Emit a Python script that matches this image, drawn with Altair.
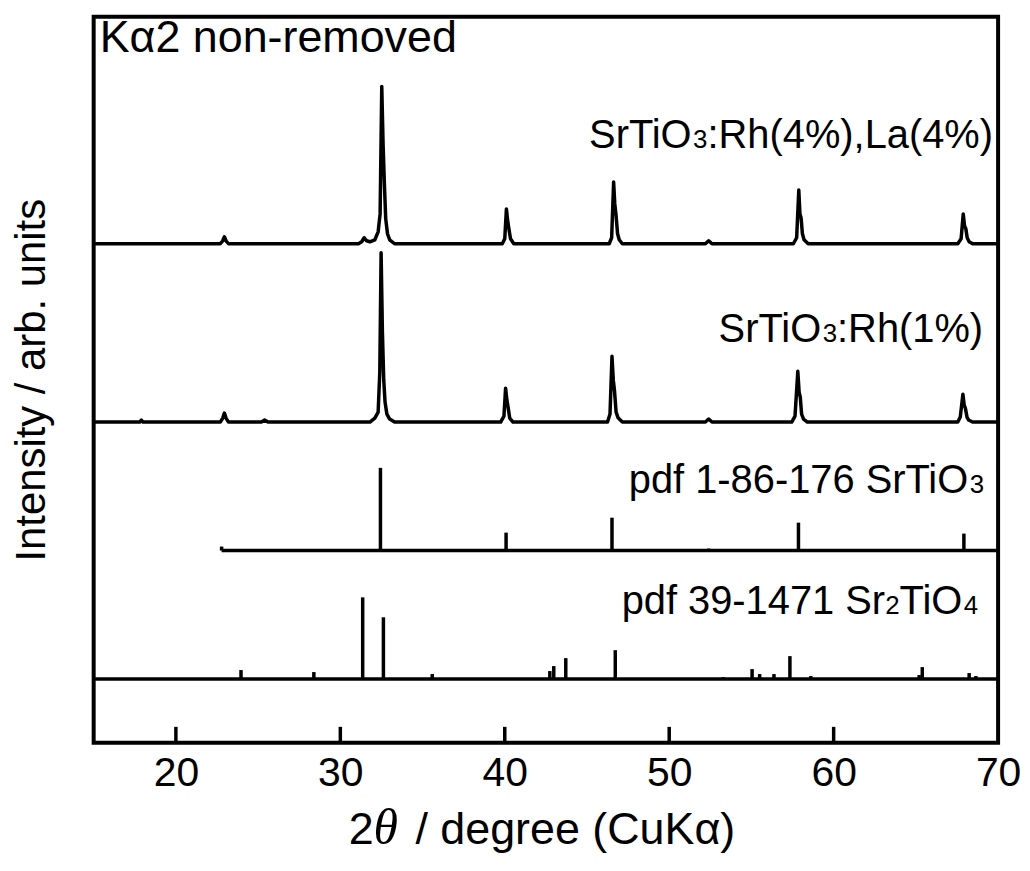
import altair as alt
import pandas as pd

# ---------------- data ----------------
# SrTiO3:Rh(4%),La(4%)  (2theta, intensity arb.)
tt_rhla = [15.0, 22.7, 22.85, 22.95, 23.05, 23.2, 31.1, 31.3, 31.45, 31.6, 31.8, 32.1, 32.3, 32.42,
           32.52, 32.6, 32.68, 32.76, 32.87, 33.0, 33.3, 39.85, 40.0, 40.1, 40.17, 40.25, 40.35, 40.55,
           46.35, 46.5, 46.62, 46.69, 46.76, 46.86, 46.96, 47.15, 52.2, 52.4, 52.6, 57.55, 57.75, 57.88,
           57.95, 58.02, 58.1, 58.2, 58.45, 67.55, 67.75, 67.88, 67.96, 68.04, 68.12, 68.24, 68.45, 70.0]
I_rhla = [0, 0, 3, 7, 3, 0, 0, 2, 6, 3, 2, 4, 12, 30,
          158, 100, 60, 25, 10, 4, 0, 0, 5, 35, 24, 15, 5, 0,
          0, 6, 62, 40, 30, 10, 4, 0, 0, 3, 0, 0, 6, 54,
          30, 26, 10, 4, 0, 0, 5, 30, 18, 15, 6, 2, 0, 0]

# SrTiO3:Rh(1%)
tt_rh = [15.0, 17.8, 17.9, 18.0, 22.7, 22.85, 22.95, 23.05, 23.2, 25.2, 25.4, 25.6, 31.8, 32.1,
         32.3, 32.4, 32.48, 32.56, 32.64, 32.72, 32.83, 33.0, 33.3, 39.75, 39.95, 40.05, 40.13, 40.21,
         40.3, 40.5, 46.25, 46.4, 46.52, 46.6, 46.67, 46.77, 46.9, 47.15, 52.2, 52.4, 52.6, 57.45,
         57.65, 57.82, 57.9, 57.97, 58.05, 58.17, 58.4, 67.55, 67.7, 67.86, 67.94, 68.01, 68.11,
         68.21, 68.45, 70.0]
I_rh = [0, 0, 2, 0, 0, 4, 9, 4, 0, 0, 2, 0, 0, 4,
        10, 50, 170, 90, 42, 20, 8, 3, 0, 0, 6, 34, 22, 14,
        4, 0, 0, 8, 66, 42, 32, 10, 4, 0, 0, 3, 0, 0,
        6, 51, 30, 25, 8, 3, 0, 0, 5, 28, 17, 14, 5,
        2, 0, 0]

# pdf 1-86-176 SrTiO3 (stick pattern)
pdf1_tt = [22.78, 32.44, 40.08, 46.52, 52.4, 57.86, 67.92]
pdf1_I = [4, 83, 18, 33, 2, 28, 17]
pdf1_range = [22.78, 70.0]

# pdf 39-1471 Sr2TiO4 (stick pattern)
pdf2_tt = [23.96, 28.39, 31.36, 32.62, 35.59, 42.74, 42.98, 43.71, 46.72, 53.28, 55.04, 55.5,
           56.37, 57.34, 58.61, 65.2, 65.39, 68.24, 68.65]
pdf2_I = [9, 7, 82, 62, 5, 8, 13, 21, 29, 2, 10, 5, 5, 23, 3, 4, 12, 6, 3]
pdf2_range = [15.0, 70.0]

x_ticks = [20, 30, 40, 50, 60, 70]

# ---------------- layout ----------------
W, H = 908, 729
PL, PT = 86, 7          # padding => plot origin at page (94, 15)
X0, Y0 = 94, 15
XMIN, XMAX = 15, 70
OFF = {"rhla": 501, "rh": 322, "pdf1": 193, "pdf2": 64}   # vertical stacking offsets

FONT = "Liberation Sans"


def px_to_tt(px):
    return XMIN + (px - X0) * (XMAX - XMIN) / W


def py_to_y(py):
    return (Y0 + H) - py


rows = []
for t, i in zip(tt_rhla, I_rhla):
    rows.append({"tt": t, "y": OFF["rhla"] + i, "s": "rhla"})
for t, i in zip(tt_rh, I_rh):
    rows.append({"tt": t, "y": OFF["rh"] + i, "s": "rh"})
df_tr = pd.DataFrame(rows)

df_base = pd.DataFrame([
    {"tt": pdf1_range[0], "tt2": pdf1_range[1], "y": OFF["pdf1"]},
    {"tt": pdf2_range[0], "tt2": pdf2_range[1], "y": OFF["pdf2"]},
])

srows = []
for t, i in zip(pdf1_tt, pdf1_I):
    srows.append({"tt": t, "y": OFF["pdf1"], "y2": OFF["pdf1"] + i})
for t, i in zip(pdf2_tt, pdf2_I):
    srows.append({"tt": t, "y": OFF["pdf2"], "y2": OFF["pdf2"] + i})
df_st = pd.DataFrame(srows)

df_ticks = pd.DataFrame({"tt": x_ticks[:-1]})

# Arial / Liberation Sans advance widths (1/1000 em) for label layout
AW = {' ': 278, '%': 889, '(': 333, ')': 333, ',': 278, '-': 333, '.': 278, ':': 278, '/': 278,
      'L': 556, 'O': 778, 'R': 722, 'S': 667, 'T': 611, 'a': 556, 'd': 556, 'f': 278, 'h': 556,
      'i': 222, 'p': 556, 'r': 333}
for d in "0123456789":
    AW[d] = 556


def tw(text, fs):
    return sum(AW.get(c, 556) for c in text) * fs / 1000.0


BIG, SUB = 40, 26
labels = [
    ([("SrTiO", BIG), ("3", SUB), (":Rh(4%),La(4%)", BIG)], 997, 147),
    ([("SrTiO", BIG), ("3", SUB), (":Rh(1%)", BIG)], 987, 342),
    ([("pdf 1-86-176 SrTiO", BIG), ("3", SUB)], 988, 493),
    ([("pdf 39-1471 Sr", BIG), ("2", SUB), ("TiO", BIG), ("4", SUB)], 982, 615),
]
trows = []
for segs, right, base in labels:
    x = right - sum(tw(t, f) for t, f in segs)
    for t, f in segs:
        trows.append({"text": t, "tt": px_to_tt(x), "y": py_to_y(base), "fs": f})
        x += tw(t, f)
trows.append({"text": "K\u03b12 non-removed", "tt": px_to_tt(100), "y": py_to_y(50), "fs": 45})
# x-axis title (sans parts)
trows.append({"text": "2", "tt": px_to_tt(350), "y": py_to_y(846), "fs": 45})
trows.append({"text": "/ degree (CuK\u03b1)", "tt": px_to_tt(417), "y": py_to_y(846), "fs": 45})
df_txt = pd.DataFrame(trows)
df_theta = pd.DataFrame([{"text": "\u03b8", "tt": px_to_tt(375), "y": py_to_y(846)}])

xs = alt.Scale(domain=[XMIN, XMAX], nice=False, zero=False)
ys = alt.Scale(domain=[0, H], nice=False, zero=False)

xenc = alt.X("tt:Q", scale=xs,
             axis=alt.Axis(values=x_ticks, ticks=False, tickSize=0, domain=False, grid=False,
                           labelFontSize=41, labelFont=FONT, labelColor="black", labelPadding=11,
                           labelFlush=False, title=None))
yenc = alt.Y("y:Q", scale=ys, axis=None)

traces = alt.Chart(df_tr).mark_line(color="black", strokeWidth=3.5, strokeJoin="round").encode(
    x=xenc, y=yenc, detail="s:N")

bases = alt.Chart(df_base).mark_rule(color="black", strokeWidth=3.5).encode(
    x="tt:Q", x2="tt2:Q", y="y:Q")

sticks = alt.Chart(df_st).mark_rule(color="black", strokeWidth=3.5).encode(
    x="tt:Q", y="y:Q", y2="y2:Q")

ticks = alt.Chart(df_ticks).mark_rule(color="black", strokeWidth=3.5).encode(
    x="tt:Q", y=alt.value(H), y2=alt.value(H - 16))

texts = alt.Chart(df_txt).mark_text(align="left", baseline="alphabetic", font=FONT,
                                    color="black").encode(
    x="tt:Q", y="y:Q", text="text:N", size=alt.Size("fs:Q", scale=None, legend=None))

theta = alt.Chart(df_theta).mark_text(align="left", baseline="alphabetic", font="Liberation Serif",
                                      fontStyle="italic", fontSize=50, color="black").encode(
    x="tt:Q", y="y:Q", text="text:N")

ytitle = alt.Chart(pd.DataFrame({"text": ["Intensity / arb. units"]})).mark_text(
    align="center", baseline="alphabetic", angle=270, font=FONT, fontSize=42, color="black").encode(
    x=alt.value(45 - X0), y=alt.value(380 - Y0), text="text:N")

chart = alt.layer(traces, bases, sticks, ticks, texts, theta, ytitle).properties(
    width=W, height=H,
    background="white",
    autosize=alt.AutoSizeParams(type="none"),
    padding={"left": PL, "top": PT, "right": 24, "bottom": 120},
).configure_view(stroke="black", strokeWidth=4)

chart.save("out.html", embed_options={"renderer": "svg", "actions": False})
